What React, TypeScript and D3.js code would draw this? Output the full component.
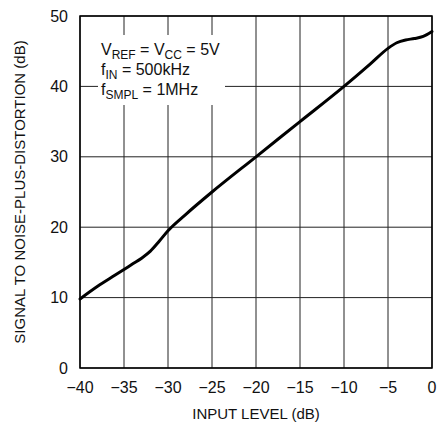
import React from "react";
import * as d3 from "d3";

const inputLevel = [-40, -38, -36, -35, -34, -33, -32, -31, -30, -28, -25, -20, -15, -10, -7, -5, -4, -3, -2, -1, 0];
const sinad = [9.8, 11.6, 13.2, 14.0, 14.8, 15.6, 16.6, 18.0, 19.5, 21.8, 25.0, 30.0, 35.0, 40.0, 43.2, 45.4, 46.2, 46.6, 46.8, 47.1, 47.8];
const xTicks = [-40, -35, -30, -25, -20, -15, -10, -5, 0];
const yTicks = [0, 10, 20, 30, 40, 50];

const W = 437, H = 426;
const L = 80, R = 432, T = 16, B = 368;
const FONT = "'Liberation Sans Narrow', 'Arial Narrow', 'Liberation Sans', sans-serif";

export default function App() {
  const x = d3.scaleLinear().domain([-40, 0]).range([L, R]);
  const y = d3.scaleLinear().domain([0, 50]).range([B, T]);
  const line = d3.line<number>().x((_, i) => x(inputLevel[i])).y((d) => y(d)).curve(d3.curveMonotoneX);
  const fmt = (v: number) => (v < 0 ? "\u2212" + Math.abs(v) : String(v));
  return (
    <svg width={W} height={H} style={{ position: "absolute", left: 0, top: 0, background: "#fff" }} fontFamily={FONT}>
      <rect width={W} height={H} fill="#fff" />
      {xTicks.map((t) => (
        <line key={"gx" + t} x1={x(t)} x2={x(t)} y1={T} y2={B} stroke="#222" strokeWidth={1} />
      ))}
      {yTicks.map((t) => (
        <line key={"gy" + t} x1={L} x2={R} y1={y(t)} y2={y(t)} stroke="#222" strokeWidth={1} />
      ))}
      <rect x={98} y={35} width={127} height={70} fill="#fff" />
      <rect x={L} y={T} width={R - L} height={B - T} fill="none" stroke="#000" strokeWidth={1.5} />
      <path d={line(sinad) || ""} fill="none" stroke="#000" strokeWidth={3} strokeLinejoin="round" strokeLinecap="round" />
      {xTicks.map((t) => (
        <text key={"tx" + t} x={x(t)} y={393} textAnchor="middle" fontSize={16} fill="#111">{fmt(t)}</text>
      ))}
      {yTicks.map((t) => (
        <text key={"ty" + t} x={68} y={y(t)} dy="0.35em" textAnchor="end" fontSize={16} fill="#111">{t}</text>
      ))}
      <text x={(L + R) / 2} y={419} textAnchor="middle" fontSize={15} fill="#111">INPUT LEVEL (dB)</text>
      <text transform={`translate(25,${(T + B) / 2}) rotate(-90)`} textAnchor="middle" fontSize={15} fill="#111">
        SIGNAL TO NOISE-PLUS-DISTORTION (dB)
      </text>
      <g fontSize={16} fill="#111">
        <text x={101} y={55}>
          V<tspan fontSize={12} dy={4}>REF</tspan>
          <tspan dy={-4}> = V</tspan>
          <tspan fontSize={12} dy={4}>CC</tspan>
          <tspan dy={-4}> = 5V</tspan>
        </text>
        <text x={101} y={75}>
          f<tspan fontSize={12} dy={4}>IN</tspan>
          <tspan dy={-4}> = 500kHz</tspan>
        </text>
        <text x={101} y={95}>
          f<tspan fontSize={12} dy={4}>SMPL</tspan>
          <tspan dy={-4}> = 1MHz</tspan>
        </text>
      </g>
    </svg>
  );
}
